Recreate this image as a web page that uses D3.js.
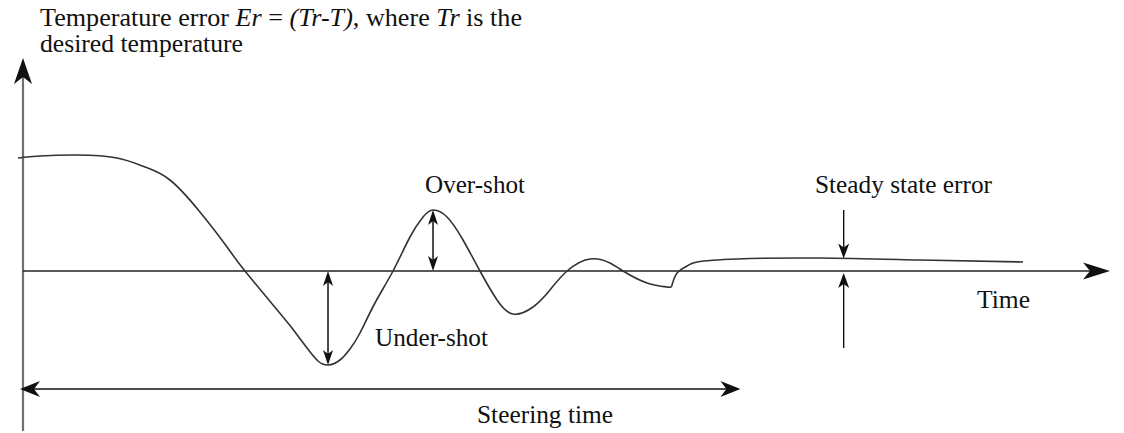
<!DOCTYPE html>
<html>
<head>
<meta charset="utf-8">
<script src="https://cdn.jsdelivr.net/npm/d3@7"></script>
<style>
  html, body { margin: 0; padding: 0; background: #fff; }
  svg { display: block; }
</style>
</head>
<body>
<svg id="chart" width="1124" height="433"></svg>
<script>
// Temperature error response over time (arbitrary units)
const curveTime = [-0.46, 1.56, 4.97, 8.65, 11.22, 13.52, 16.28, 18.77, 20.42, 23.92, 25.02, 26.13,
  27.14, 28.06, 29.16, 30.08, 31.00, 32.38, 34.04, 35.60, 36.80, 37.72, 39.01, 40.48, 42.04,
  43.61, 45.08, 46.92, 48.48, 50.05, 52.16, 54.00, 55.20, 57.41, 59.25, 59.71, 60.17, 61.09,
  62.01, 65.69, 73.32, 82.52, 92.00];
const curveError = [11.3, 11.5, 11.6, 11.3, 10.4, 9.1, 5.9, 2.4, 0.0, -4.6, -6.1, -7.7,
  -9.0, -9.4, -8.9, -7.8, -6.2, -3.2, 0.0, 3.4, 5.4, 6.1, 5.4, 3.1, 0.0,
  -2.9, -4.3, -3.6, -1.9, 0.0, 1.2, 0.8, 0.0, -1.2, -1.6, -1.4, -0.2, 0.5,
  0.9, 1.2, 1.3, 1.1, 0.9];

// Annotation values
const steadyTime = 75.5;
const steeringEnd = 66.0;
const steeringLevel = -11.8;
const steadyArrowTop = 6.1;
const steadyArrowBottom = -7.7;

const FONT = '"Liberation Serif", "Times New Roman", Times, serif';

const svg = d3.select("#chart");
const x = d3.scaleLinear().domain([0, 100]).range([23, 1110]);
const y = d3.scaleLinear().domain([-16, 22]).range([431, 51]);

const points = curveTime.map((t, i) => ({ t, e: curveError[i] }));

// Notched arrow head with its tip at (px, py), pointing along angle (degrees)
function head(px, py, angle, len, hw, notch, color) {
  const p = [[0, 0], [-len, -hw], [-len + notch, 0], [-len, hw]];
  svg.append("path")
    .attr("d", "M" + p.map(d => d.join(",")).join("L") + "Z")
    .attr("transform", `translate(${px},${py}) rotate(${angle})`)
    .attr("fill", color || "#111");
}

function vline(px, y1, y2, color, w) {
  svg.append("line").attr("x1", px).attr("x2", px).attr("y1", y1).attr("y2", y2)
    .attr("stroke", color || "#111").attr("stroke-width", w || 1.4);
}

// Vertical axis (error)
vline(x(0), y(0) + 160, y.range()[1] + 20, "#707070", 2.2);
head(x(0), 58, -90, 26, 9, 7, "#111");

// Time axis
svg.append("line")
  .attr("x1", x(0)).attr("x2", x(100) - 10)
  .attr("y1", y(0)).attr("y2", y(0))
  .attr("stroke", "#222").attr("stroke-width", 1.5);
head(x(100), y(0), 0, 27, 8.5, 7, "#111");

// Error curve
const line = d3.line().x(d => x(d.t)).y(d => y(d.e)).curve(d3.curveNatural);
svg.append("path").datum(points)
  .attr("d", line)
  .attr("fill", "none")
  .attr("stroke", "#333")
  .attr("stroke-width", 1.6);

// Under-shot and over-shot extremes
const under = points.reduce((a, b) => (b.e < a.e ? b : a));
const over = points.filter(d => d.t > under.t && d.t < 42).reduce((a, b) => (b.e > a.e ? b : a));

function doubleArrow(t, e1, e2) {
  const px = x(t), ya = y(Math.max(e1, e2)), yb = y(Math.min(e1, e2));
  vline(px, ya + 4, yb - 4, "#111", 1.5);
  head(px, ya, -90, 15, 5, 4);
  head(px, yb, 90, 15, 5, 4);
}
doubleArrow(under.t, under.e, 0);
doubleArrow(over.t, over.e, 0);

// Steady state error markers
const steadyValue = d3.scaleLinear().domain(curveTime).range(curveError)(steadyTime);
vline(x(steadyTime), y(steadyArrowTop), y(steadyValue) - 6, "#111", 1.4);
head(x(steadyTime), y(steadyValue), 90, 15, 5.5, 4);
vline(x(steadyTime), y(steadyArrowBottom), y(0) + 6, "#111", 1.4);
head(x(steadyTime), y(0) + 2, -90, 15, 5.5, 4);

// Steering time span
svg.append("line")
  .attr("x1", x(0) + 6).attr("x2", x(steeringEnd) - 6)
  .attr("y1", y(steeringLevel)).attr("y2", y(steeringLevel))
  .attr("stroke", "#111").attr("stroke-width", 1.6);
head(x(0) - 3, y(steeringLevel), 180, 20, 8, 6);
head(x(steeringEnd), y(steeringLevel), 0, 20, 8, 6);

// Labels
function label(px, py, w) {
  return svg.append("text").attr("x", px).attr("y", py)
    .style("font-family", FONT).style("font-size", "25px").attr("fill", "#111")
    .attr("textLength", w).attr("lengthAdjust", "spacingAndGlyphs");
}

const title = label(40, 26, 482);
title.append("tspan").text("Temperature error ");
title.append("tspan").style("font-style", "italic").text("Er");
title.append("tspan").text(" = ");
title.append("tspan").style("font-style", "italic").text("(Tr-T)");
title.append("tspan").text(", where ");
title.append("tspan").style("font-style", "italic").text("Tr");
title.append("tspan").text(" is the");

label(40, 52, 203).text("desired temperature");

const labels = [
  { text: "Over-shot", x: 425, y: 193, w: 100 },
  { text: "Under-shot", x: 375, y: 346, w: 113 },
  { text: "Steady state error", x: 815, y: 193, w: 177 },
  { text: "Time", x: 977, y: 308, w: 53 },
  { text: "Steering time", x: 477, y: 423, w: 136 }
];
labels.forEach(l => label(l.x, l.y, l.w).text(l.text));
</script>
</body>
</html>
